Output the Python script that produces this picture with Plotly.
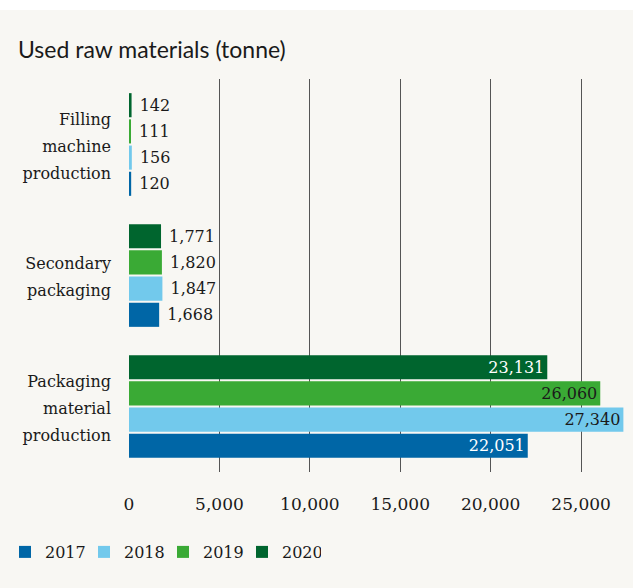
import plotly.graph_objects as go

category_lines = [["Packaging", "material", "production"], ["Secondary", "packaging"], ["Filling", "machine", "production"]]
years = ["2017", "2018", "2019", "2020"]
values_2017 = [22051, 1668, 120]
values_2018 = [27340, 1847, 156]
values_2019 = [26060, 1820, 111]
values_2020 = [23131, 1771, 142]
colors = ["#0066a6", "#72c9ec", "#3aaa35", "#00652e"]
inside_text_colors = ["#ffffff", "#1a1a1a", "#1a1a1a", "#ffffff"]
tick_vals = [0, 5000, 10000, 15000, 20000, 25000]

serif = "DejaVu Serif, Liberation Serif, serif"
all_values = [values_2017, values_2018, values_2019, values_2020]
categories = ["<br>".join(f"<span style='font-size:16px'>{w}</span>" for w in lines) for lines in category_lines]

fig = go.Figure()
for yr, vals, col, itc in zip(years, all_values, colors, inside_text_colors):
    fig.add_trace(go.Bar(
        name=yr, y=categories, x=vals, orientation="h",
        marker=dict(color=col, line=dict(width=0)),
        text=[f"{v:,}" if i == 0 else f"\u00a0{v:,}" for i, v in enumerate(vals)],
        textposition=["inside", "outside", "outside"],
        insidetextanchor="end",
        constraintext="none",
        insidetextfont=dict(color=itc, size=16, family=serif),
        outsidetextfont=dict(color="#1a1a1a", size=16, family=serif),
        textangle=0, cliponaxis=False,
        hoverinfo="skip",
    ))

fig.update_layout(
    width=633, height=588,
    paper_bgcolor="#f8f7f3", plot_bgcolor="#f8f7f3",
    margin=dict(l=129, r=4, t=79, b=116, autoexpand=False),
    barmode="group", bargap=0.2, bargroupgap=0.08,
    title=dict(text="Used raw materials (tonne)", x=18/633, xanchor="left",
               y=1 - 50/588, yanchor="middle",
               font=dict(family="Lato, Open Sans, sans-serif", size=23, color="#1a1a1a")),
    font=dict(family=serif, size=16, color="#1a1a1a"),
    showlegend=True,
    legend=dict(orientation="h", x=(6 - 129)/496, xanchor="left", y=-(535 - 472)/393, yanchor="top",
                traceorder="normal", entrywidth=34, entrywidthmode="pixels",
                font=dict(family=serif, size=16, color="#1a1a1a"),
                itemclick=False, bgcolor="rgba(0,0,0,0)"),
    shapes=[dict(type="rect", xref="paper", yref="paper", x0=-0.3, x1=1.1,
                 y0=1 + 69/393, y1=1.3, fillcolor="#ffffff", line=dict(width=0), layer="below")],
)
fig.update_xaxes(range=[0, 27650], tickvals=tick_vals, tickformat=",",
                 showgrid=True, gridcolor="#555555", gridwidth=1,
                 zeroline=False, showline=False, ticks="",
                 ticklabelstandoff=20, tickfont=dict(family=serif, size=17, color="#1a1a1a"))
fig.update_yaxes(showgrid=False, showline=False, ticks="", ticklabelstandoff=17,
                 tickfont=dict(family=serif, size=21, color="#1a1a1a"))

fig.write_html("out.html", config={"displayModeBar": False},
               post_script="document.body.style.margin='0';document.body.style.overflow='hidden';")
